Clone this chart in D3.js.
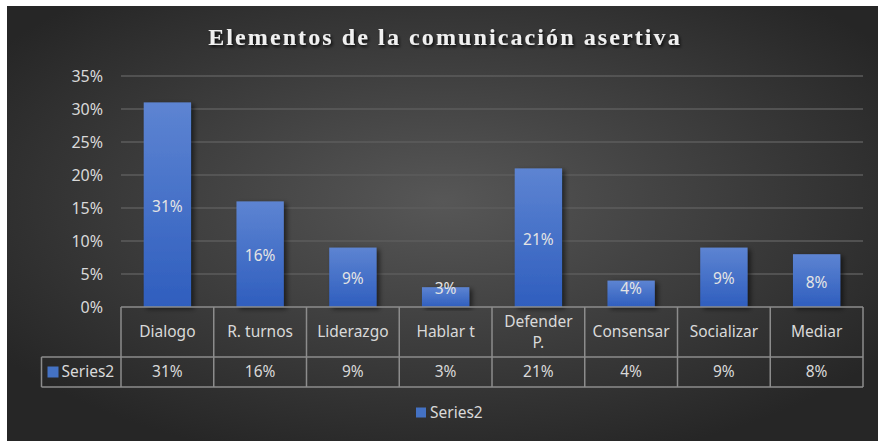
<!DOCTYPE html>
<html>
<head>
<meta charset="utf-8">
<script src="https://cdn.jsdelivr.net/npm/d3@7"></script>
<style>
  body { margin: 0; background: #fff; }
  text { font-family: "Noto Sans", "Open Sans", sans-serif; }
</style>
</head>
<body>
<svg id="chart" width="878" height="441"></svg>
<script>
var categories = ["Dialogo", "R. turnos", "Liderazgo", "Hablar t", "Defender P.", "Consensar", "Socializar", "Mediar"];
var values = [0.31, 0.16, 0.09, 0.03, 0.21, 0.04, 0.09, 0.08];
var yTicks = [0, 0.05, 0.10, 0.15, 0.20, 0.25, 0.30, 0.35];
var seriesName = "Series2";
var title = "Elementos de la comunicación asertiva";

var margin = {top: 76, right: 15, bottom: 134, left: 121},
    W = 878, H = 441,
    width = W - margin.left - margin.right,
    height = H - margin.top - margin.bottom;

var svg = d3.select("#chart");
var defs = svg.append("defs");

var bg = defs.append("radialGradient").attr("id", "bg")
    .attr("cx", "0.5").attr("cy", "0.45").attr("r", "0.62");
bg.append("stop").attr("offset", "0%").attr("stop-color", "#575757");
bg.append("stop").attr("offset", "100%").attr("stop-color", "#262626");

var barGrad = defs.append("linearGradient").attr("id", "barGrad")
    .attr("x1", 0).attr("y1", 0).attr("x2", 0).attr("y2", 1);
barGrad.append("stop").attr("offset", "0%").attr("stop-color", "#5d84d2");
barGrad.append("stop").attr("offset", "100%").attr("stop-color", "#2f5ebe");

var shadow = defs.append("filter").attr("id", "shadow")
    .attr("x", "-30%").attr("y", "-10%").attr("width", "160%").attr("height", "130%");
shadow.append("feDropShadow").attr("dx", 3).attr("dy", 2).attr("stdDeviation", 2.5)
    .attr("flood-color", "#000").attr("flood-opacity", 0.55);

var tshadow = defs.append("filter").attr("id", "tshadow");
tshadow.append("feDropShadow").attr("dx", 1.5).attr("dy", 2).attr("stdDeviation", 1.5)
    .attr("flood-color", "#000").attr("flood-opacity", 0.8);

svg.append("rect")
    .attr("x", 7).attr("y", 6).attr("width", W - 7).attr("height", H - 6)
    .attr("fill", "url(#bg)");

svg.append("text")
    .attr("x", 445).attr("y", 45)
    .attr("text-anchor", "middle")
    .style("font-family", "'Liberation Serif', 'DejaVu Serif', serif")
    .style("font-weight", "bold")
    .style("font-size", "24px")
    .style("letter-spacing", "2.1px")
    .attr("fill", "#f0f0f0")
    .attr("filter", "url(#tshadow)")
    .text(title);

var chart = svg.append("g")
    .attr("transform", "translate(" + margin.left + "," + margin.top + ")");

var x = d3.scaleBand().domain(categories).range([0, width]).paddingInner(0.49).paddingOuter(0.245);
var xCell = d3.scaleBand().domain(categories).range([0, width]);
var y = d3.scaleLinear().domain([0, 0.35]).range([height, 0]);

// gridlines
chart.append("g")
  .selectAll("line")
  .data(yTicks.slice(1))
  .join("line")
    .attr("x1", 0).attr("x2", width)
    .attr("y1", d => y(d)).attr("y2", d => y(d))
    .attr("stroke", "#5c5c5c")
    .attr("stroke-width", 1.3);

// y axis labels
var yAxis = d3.axisLeft(y).tickValues(yTicks).tickFormat(d3.format(".0%")).tickSize(0).tickPadding(18);
chart.append("g")
    .call(yAxis)
    .call(g => g.select(".domain").remove())
    .call(g => g.selectAll("text")
        .attr("fill", "#d9d9d9")
        .style("font-size", "16px")
        .style("font-family", "'Noto Sans', sans-serif")
        .attr("dy", "0.35em"));

// bars
chart.append("g")
  .selectAll("rect")
  .data(values)
  .join("rect")
    .attr("x", (d, i) => x(categories[i]))
    .attr("y", d => y(d))
    .attr("width", x.bandwidth())
    .attr("height", d => height - y(d))
    .attr("fill", "url(#barGrad)")
    .attr("filter", "url(#shadow)");

// data labels
chart.append("g")
  .selectAll("text")
  .data(values)
  .join("text")
    .attr("x", (d, i) => x(categories[i]) + x.bandwidth() / 2)
    .attr("y", d => Math.min((y(d) + height) / 2 + 1.5, height - 18.5))
    .attr("dy", "0.35em")
    .attr("text-anchor", "middle")
    .attr("fill", "#e4e4e4")
    .style("font-size", "15.5px")
    .text(d => d3.format(".0%")(d));

// data table
var headH = 50, rowH = 30, leftX = 41.5 - margin.left;
var table = chart.append("g").attr("transform", "translate(0," + height + ")");
var lineColor = "#8c8c8c";

// horizontal lines
table.append("line").attr("x1", 0).attr("x2", width).attr("y1", 0).attr("y2", 0)
    .attr("stroke", lineColor).attr("stroke-width", 1.5);
table.append("line").attr("x1", leftX).attr("x2", width).attr("y1", headH).attr("y2", headH)
    .attr("stroke", lineColor).attr("stroke-width", 1.5);
table.append("line").attr("x1", leftX).attr("x2", width).attr("y1", headH + rowH).attr("y2", headH + rowH)
    .attr("stroke", lineColor).attr("stroke-width", 1.5);
// vertical lines
table.append("g").selectAll("line")
  .data(categories.map(c => xCell(c)).concat([width]))
  .join("line")
    .attr("x1", d => d).attr("x2", d => d)
    .attr("y1", 0).attr("y2", headH + rowH)
    .attr("stroke", lineColor).attr("stroke-width", 1.5);
table.append("line").attr("x1", leftX).attr("x2", leftX).attr("y1", headH).attr("y2", headH + rowH)
    .attr("stroke", lineColor).attr("stroke-width", 1.5);

// category labels
table.append("g").selectAll("text")
  .data(categories)
  .join("text")
    .attr("text-anchor", "middle")
    .attr("fill", "#d9d9d9")
    .style("font-size", "15.5px")
    .each(function(d) {
      var t = d3.select(this);
      var cx = xCell(d) + xCell.bandwidth() / 2;
      var parts = d === "Defender P." ? ["Defender", "P."] : [d];
      parts.forEach(function(p, k) {
        t.append("tspan")
          .attr("x", cx)
          .attr("y", parts.length === 1 ? 25 : 14.5 + k * 21.5)
          .attr("dy", "0.35em")
          .text(p);
      });
    });

// values row
table.append("g").selectAll("text")
  .data(values)
  .join("text")
    .attr("x", (d, i) => xCell(categories[i]) + xCell.bandwidth() / 2)
    .attr("y", headH + rowH / 2)
    .attr("dy", "0.35em")
    .attr("text-anchor", "middle")
    .attr("fill", "#d9d9d9")
    .style("font-size", "15.5px")
    .text(d => d3.format(".0%")(d));

// series key in table
table.append("rect")
    .attr("x", leftX + 6).attr("y", headH + rowH / 2 - 5.5)
    .attr("width", 11).attr("height", 11)
    .attr("fill", "#4472c4");
table.append("text")
    .attr("x", leftX + 20).attr("y", headH + rowH / 2)
    .attr("dy", "0.35em")
    .attr("fill", "#d9d9d9")
    .style("font-size", "15.5px")
    .text(seriesName);

// legend
var legend = svg.append("g").attr("transform", "translate(416,413)");
legend.append("rect").attr("x", 0).attr("y", -5.5).attr("width", 10).attr("height", 10)
    .attr("fill", "#4472c4");
legend.append("text").attr("x", 14).attr("y", 0).attr("dy", "0.35em")
    .attr("fill", "#d9d9d9")
    .style("font-size", "15.5px")
    .text(seriesName);
</script>
</body>
</html>
